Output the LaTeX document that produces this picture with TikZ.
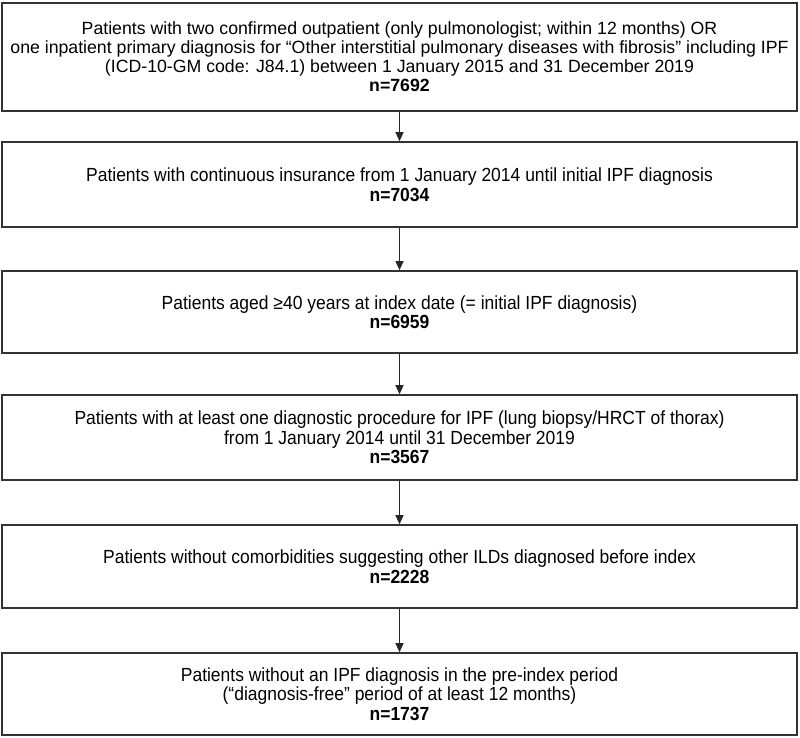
\documentclass[tikz,border=0pt]{standalone}
\usepackage{fontspec}
\setmainfont{Liberation Sans}
\newfontfamily\narrowfont[FakeStretch=0.92]{Liberation Sans}
\usetikzlibrary{arrows.meta}

\begin{document}
\begin{tikzpicture}[x=1pt,y=-1pt,
  stage/.style={draw=black!80,line width=1.6pt,minimum width=795pt,align=center,inner sep=0pt,
    font=\narrowfont\fontsize{19}{19.5}\selectfont},
  flow/.style={draw=black!85,line width=1.1pt,-{Triangle[length=9pt,width=8pt]}}]
\useasboundingbox (0,0) rectangle (800,738);
% Selection steps
\node[stage,minimum height=108pt,font=\fontsize{17.7}{19}\selectfont] (s1) at (399.5,57)
  {Patients with two confirmed outpatient (only pulmonologist; within 12 months) OR\\
   one inpatient primary diagnosis for “Other interstitial pulmonary diseases with fibrosis” including IPF\\
   (ICD-10-GM code: J84.1) between 1 January 2015 and 31 December 2019\\
   \textbf{n=7692}};
\node[stage,minimum height=85pt] (s2) at (399.5,184.5)
  {Patients with continuous insurance from 1 January 2014 until initial IPF diagnosis\\
   \textbf{n=7034}};
\node[stage,minimum height=82pt] (s3) at (399.5,312)
  {Patients aged ≥40 years at index date (= initial IPF diagnosis)\\
   \textbf{n=6959}};
\node[stage,minimum height=85pt] (s4) at (399.5,437.5)
  {Patients with at least one diagnostic procedure for IPF (lung biopsy/HRCT of thorax)\\
   from 1 January 2014 until 31 December 2019\\
   \textbf{n=3567}};
\node[stage,minimum height=83pt] (s5) at (399.5,566.5)
  {Patients without comorbidities suggesting other ILDs diagnosed before index\\
   \textbf{n=2228}};
\node[stage,minimum height=82pt] (s6) at (399.5,694)
  {Patients without an IPF diagnosis in the pre-index period\\
   (“diagnosis-free” period of at least 12 months)\\
   \textbf{n=1737}};
% Arrows
\foreach \a/\b in {s1/s2,s2/s3,s3/s4,s4/s5,s5/s6}{
\draw[flow] (\a) -- (\b);
}
\end{tikzpicture}
\end{document}
